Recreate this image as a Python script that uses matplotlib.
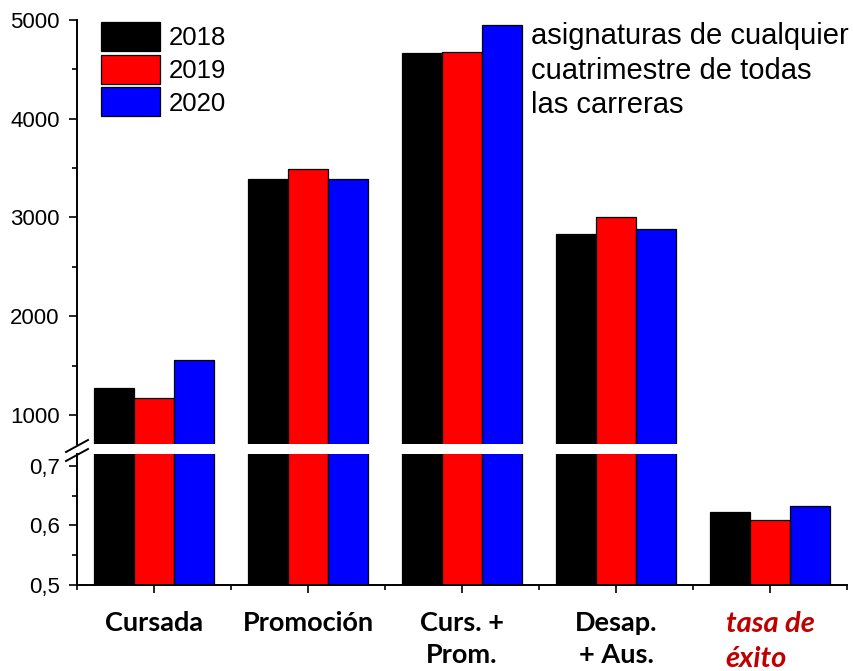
import matplotlib.pyplot as plt
from matplotlib.lines import Line2D
from matplotlib.ticker import MultipleLocator, FuncFormatter
import numpy as np

plt.rcParams["font.family"] = ["Liberation Sans", "DejaVu Sans"]

categories = ["Cursada", "Promoción", "Curs. +\nProm.", "Desap.\n+ Aus.", "tasa de\néxito"]
years = ["2018", "2019", "2020"]
v2018 = [1276, 3390, 4669, 2830, 0.623]
v2019 = [1172, 3491, 4679, 3002, 0.610]
v2020 = [1554, 3390, 4949, 2884, 0.632]
colors = ["#000000", "#ff0000", "#0000ff"]

W, H = 854, 671
fig = plt.figure(figsize=(W / 100, H / 100), dpi=100)

def fbox(x0, y0, x1, y1):
    # pixel box (top-left origin) -> figure fraction
    return [x0 / W, 1 - y1 / H, (x1 - x0) / W, (y1 - y0) / H]

ax_top = fig.add_axes(fbox(77, 20, 847, 444))
ax_bot = fig.add_axes(fbox(77, 454, 847, 585))

x = np.arange(1, len(categories) + 1)
bw = 0.26
series = [v2018, v2019, v2020]
for ax in (ax_top, ax_bot):
    for i, (vals, c, yr) in enumerate(zip(series, colors, years)):
        ax.bar(x + (i - 1) * bw, vals, bw, color=c, edgecolor="black",
               linewidth=0.9, label=yr)
    ax.set_xlim(0.5, 5.5)
    for s in ("top", "right"):
        ax.spines[s].set_visible(False)
    ax.spines["left"].set_linewidth(1.4)
    ax.tick_params(axis="y", which="major", direction="out", length=6, width=1.2,
                   labelsize=16, pad=6.5)
    ax.tick_params(axis="y", which="minor", direction="out", length=3.5, width=1.2)

ax_top.set_ylim(706, 5000)
ax_top.yaxis.set_major_locator(MultipleLocator(1000))
ax_top.yaxis.set_minor_locator(MultipleLocator(500))
ax_top.spines["bottom"].set_visible(False)
ax_top.set_xticks([])

ax_bot.set_ylim(0.5, 0.72)
ax_bot.yaxis.set_major_locator(MultipleLocator(0.1))
ax_bot.yaxis.set_minor_locator(MultipleLocator(0.05))
ax_bot.yaxis.set_major_formatter(FuncFormatter(lambda v, p: f"{v:.1f}".replace(".", ",")))
ax_bot.spines["bottom"].set_linewidth(1.4)
ax_bot.set_xticks(x)
ax_bot.set_xticks(np.arange(0.5, 6.0, 1.0), minor=True)
ax_bot.set_xticklabels(categories, fontsize=19.5, fontweight="bold", family="Lato",
                       linespacing=1.4, multialignment="center")
ax_bot.tick_params(axis="x", which="major", length=6, width=1.2, pad=13)
ax_bot.tick_params(axis="x", which="minor", length=3.5, width=1.2)
last = ax_bot.get_xticklabels()[-1]
last.set_color("#c00000")
last.set_style("italic")
last.set_fontsize(21)
last.set_multialignment("left")

# break marks on the y axis
for y0 in (452, 461):
    fig.add_artist(Line2D([66 / W, 88 / W], [1 - y0 / H, 1 - (y0 - 12) / H],
                          color="black", linewidth=1.4))

leg = ax_top.legend(loc="upper left", bbox_to_anchor=(101 / W, 1 - 22 / H),
                    bbox_transform=fig.transFigure, frameon=False,
                    prop={"family": "Liberation Sans", "size": 18.5},
                    handlelength=2.3, handleheight=1.36, labelspacing=0.145,
                    handletextpad=0.35, borderpad=0, borderaxespad=0)

fig.text(531 / W, 1 - 22 / H, "asignaturas de cualquier\ncuatrimestre de todas\nlas carreras",
         family="Liberation Sans", fontsize=21, va="top", ha="left", linespacing=1.3)

fig.savefig("out.png", dpi=100)
